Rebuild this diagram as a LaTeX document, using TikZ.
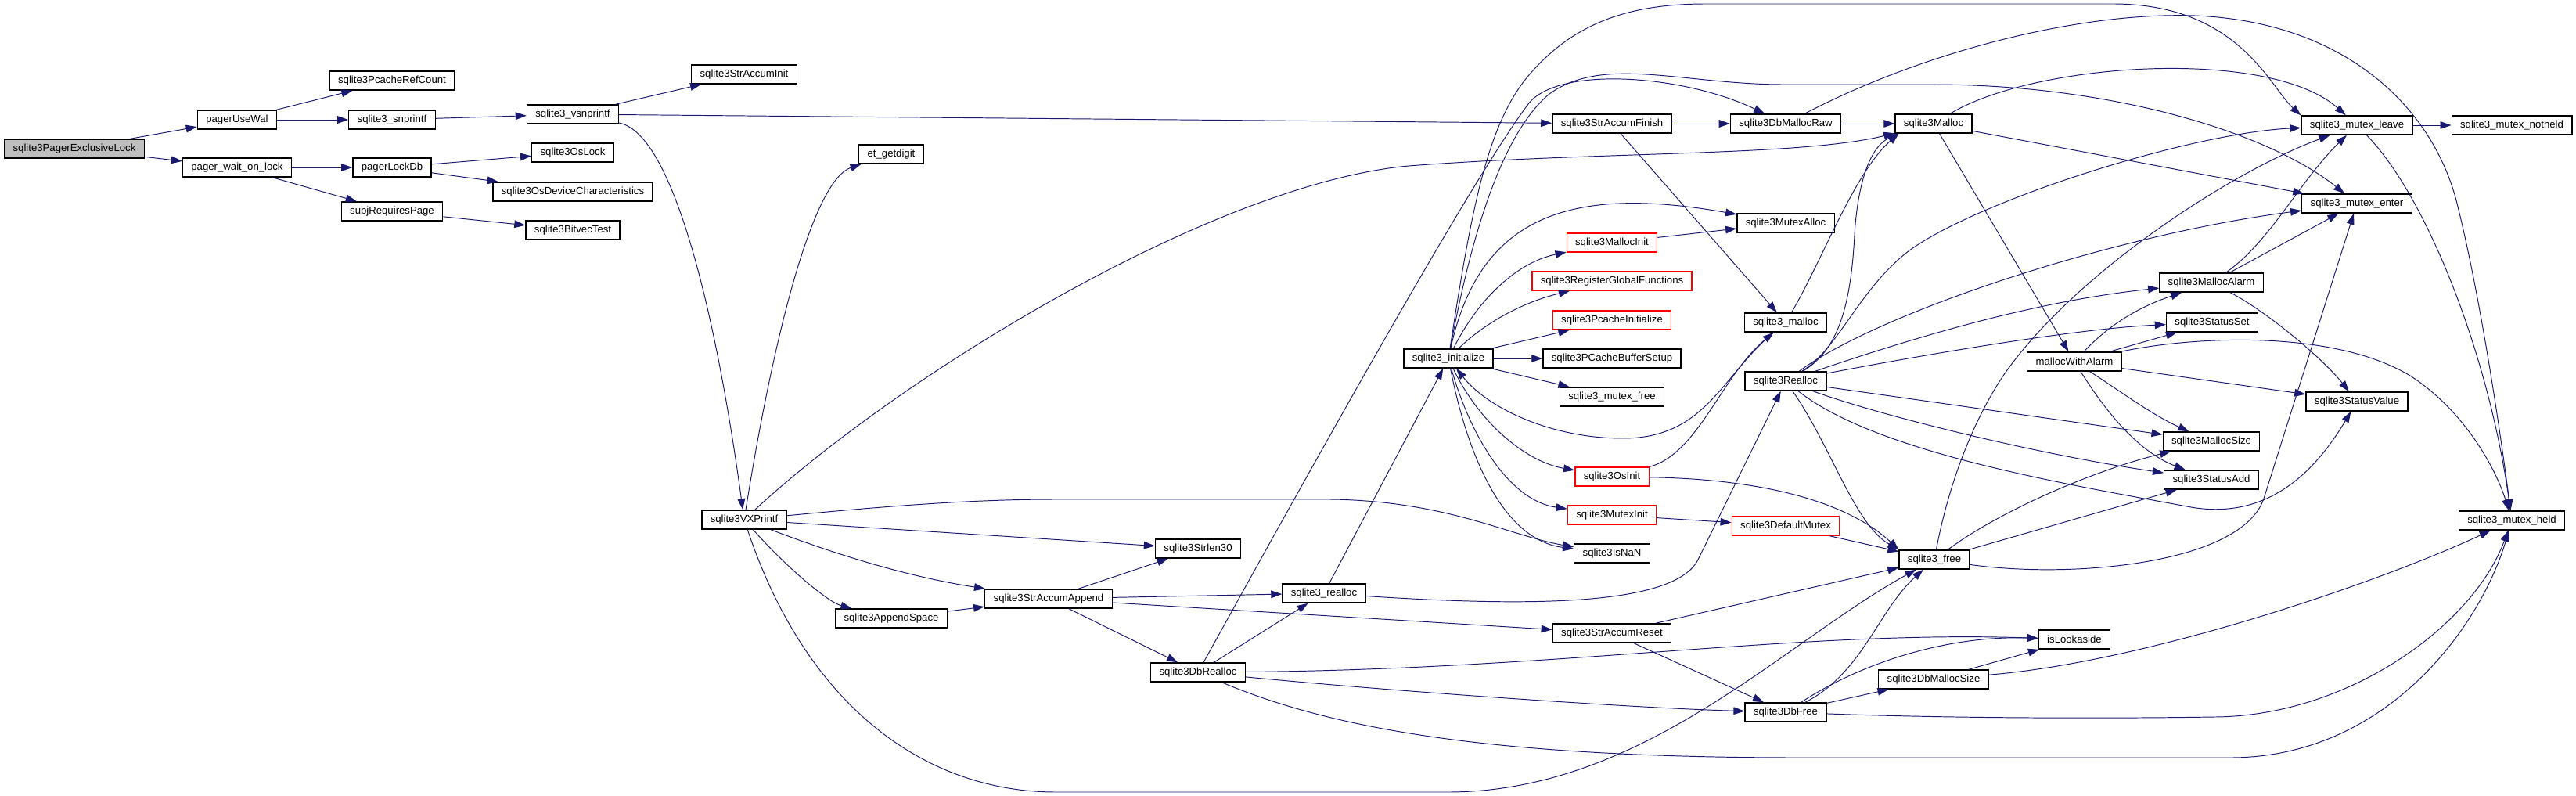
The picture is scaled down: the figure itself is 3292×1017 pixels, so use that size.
\documentclass[tikz,border=0pt]{standalone}
\usepackage{fontspec}
\setmainfont{Liberation Sans}
\usetikzlibrary{arrows.meta}
\definecolor{edgeblue}{HTML}{191970}

\begin{document}
\begin{tikzpicture}[x=0.02cm, y=-0.02cm, >={Triangle[length=8pt,width=5.5pt]},
    fn/.style={draw=black, line width=0.75pt, fill=white, inner xsep=6.2pt, inner ysep=0pt,
      minimum height=13.8pt, font=\fontsize{7.5}{9}\selectfont},
    fnroot/.style={fn, fill=black!25},
    fnred/.style={fn, draw=red},
    call/.style={->, draw=edgeblue, line width=0.55pt}]
    \useasboundingbox (0,0) rectangle (3292,1017);

    \node[fnroot] (excl) at (95,190) {sqlite3PagerExclusiveLock};
    \node[fn] (usewal) at (303,153) {pagerUseWal};
    \node[fn] (waitlock) at (303,214) {pager\_wait\_on\_lock};
    \node[fn] (refcount) at (501,103) {sqlite3PcacheRefCount};
    \node[fn] (snprintf) at (501,153) {sqlite3\_snprintf};
    \node[fn] (lockdb) at (501,214) {pagerLockDb};
    \node[fn] (subjreq) at (501,270) {subjRequiresPage};
    \node[fn] (vsnprintf) at (732,146) {sqlite3\_vsnprintf};
    \node[fn] (oslock) at (732,195) {sqlite3OsLock};
    \node[fn] (osdev) at (732,245) {sqlite3OsDeviceCharacteristics};
    \node[fn] (bitvec) at (732,294) {sqlite3BitvecTest};
    \node[fn] (accinit) at (951,95) {sqlite3StrAccumInit};
    \node[fn] (vxprintf) at (951,664) {sqlite3VXPrintf};
    \node[fn] (getdigit) at (1139,197) {et\_getdigit};
    \node[fn] (appendspace) at (1139,790) {sqlite3AppendSpace};
    \node[fn] (accappend) at (1340,765) {sqlite3StrAccumAppend};
    \node[fn] (strlen) at (1531,701) {sqlite3Strlen30};
    \node[fn] (dbrealloc) at (1531,859) {sqlite3DbRealloc};
    \node[fn] (srealloc) at (1692,758) {sqlite3\_realloc};
    \node[fn] (init) at (1851,458) {sqlite3\_initialize};
    \node[fn] (accfinish) at (2060,158) {sqlite3StrAccumFinish};
    \node[fnred] (mallocinit) at (2060,310) {sqlite3MallocInit};
    \node[fnred] (regglobal) at (2060,359) {sqlite3RegisterGlobalFunctions};
    \node[fnred] (pcacheinit) at (2060,409) {sqlite3PcacheInitialize};
    \node[fn] (bufsetup) at (2060,458) {sqlite3PCacheBufferSetup};
    \node[fn] (mutexfree) at (2060,507) {sqlite3\_mutex\_free};
    \node[fnred] (osinit) at (2060,609) {sqlite3OsInit};
    \node[fnred] (mutexinit) at (2060,658) {sqlite3MutexInit};
    \node[fn] (isnan) at (2060,707) {sqlite3IsNaN};
    \node[fn] (accreset) at (2060,809) {sqlite3StrAccumReset};
    \node[fn] (dbmallocraw) at (2282,158) {sqlite3DbMallocRaw};
    \node[fn] (mutexalloc) at (2282,285) {sqlite3MutexAlloc};
    \node[fn] (smalloc) at (2282,412) {sqlite3\_malloc};
    \node[fn] (realloc) at (2282,487) {sqlite3Realloc};
    \node[fnred] (defmutex) at (2282,672) {sqlite3DefaultMutex};
    \node[fn] (dbfree) at (2282,910) {sqlite3DbFree};
    \node[fn] (malloc) at (2471,158) {sqlite3Malloc};
    \node[fn] (sfree) at (2472,715) {sqlite3\_free};
    \node[fn] (dbmallocsize) at (2471,868) {sqlite3DbMallocSize};
    \node[fn] (withalarm) at (2651,462) {mallocWithAlarm};
    \node[fn] (lookaside) at (2651,817) {isLookaside};
    \node[fn] (mallocalarm) at (2826,361) {sqlite3MallocAlarm};
    \node[fn] (statusset) at (2827,412) {sqlite3StatusSet};
    \node[fn] (mallocsize) at (2826,564) {sqlite3MallocSize};
    \node[fn] (statusadd) at (2826,613) {sqlite3StatusAdd};
    \node[fn] (leave) at (3012,160) {sqlite3\_mutex\_leave};
    \node[fn] (enter) at (3012,260) {sqlite3\_mutex\_enter};
    \node[fn] (statusvalue) at (3012,513) {sqlite3StatusValue};
    \node[fn] (notheld) at (3210,160) {sqlite3\_mutex\_notheld};
    \node[fn] (held) at (3210,665) {sqlite3\_mutex\_held};

    \draw[call] (excl) -- (usewal);
    \draw[call] (excl) -- (waitlock);
    \draw[call] (usewal) -- (refcount);
    \draw[call] (usewal) -- (snprintf);
    \draw[call] (snprintf) -- (vsnprintf);
    \draw[call] (vsnprintf) -- (accinit);
    \draw[call] (vsnprintf) -- (accfinish);
    \draw[call] (vsnprintf) .. controls (860,170) and (915,400) .. (vxprintf);
    \draw[call] (waitlock) -- (lockdb);
    \draw[call] (waitlock) -- (subjreq);
    \draw[call] (lockdb) -- (oslock);
    \draw[call] (lockdb) -- (osdev);
    \draw[call] (subjreq) -- (bitvec);
    \draw[call] (vxprintf) .. controls (990,420) and (1040,230) .. (getdigit);
    \draw[call] (vxprintf) .. controls (1150,480) and (1550,235) .. (1800,212) .. controls (2050,193) and (2300,200) .. (malloc);
    \draw[call] (vxprintf) .. controls (1150,645) and (1250,638) .. (1350,638) -- (1700,638) .. controls (1850,640) and (1930,685) .. (isnan);
    \draw[call] (vxprintf) -- (strlen);
    \draw[call] (vxprintf) .. controls (1060,705) and (1150,735) .. (accappend);
    \draw[call] (vxprintf) .. controls (1010,730) and (1060,770) .. (appendspace);
    \draw[call] (vxprintf) .. controls (1030,900) and (1180,1012) .. (1350,1012) -- (1850,1012) .. controls (2100,1012) and (2280,820) .. (sfree);
    \draw[call] (appendspace) -- (accappend);
    \draw[call] (accappend) -- (strlen);
    \draw[call] (accappend) -- (srealloc);
    \draw[call] (accappend) -- (accreset);
    \draw[call] (accappend) -- (dbrealloc);
    \draw[call] (dbrealloc) -- (srealloc);
    \draw[call] (dbrealloc) .. controls (1680,590) and (1880,230) .. (1953,133) .. controls (1990,84) and (2150,95) .. (dbmallocraw);
    \draw[call] (dbrealloc) .. controls (2000,855) and (2300,805) .. (lookaside);
    \draw[call] (dbrealloc) .. controls (1800,885) and (2100,905) .. (dbfree);
    \draw[call] (dbrealloc) .. controls (1700,930) and (1900,968) .. (2300,968) -- (2850,968) .. controls (3050,968) and (3170,800) .. (held);
    \draw[call] (srealloc) -- (init);
    \draw[call] (srealloc) .. controls (1950,775) and (2140,775) .. (2170,715) -- (realloc);
    \draw[call] (smalloc) .. controls (2200,480) and (2180,560) .. (2074,560) .. controls (1980,560) and (1900,520) .. (init);
    \draw[call] (init) .. controls (1890,280) and (2000,235) .. (mutexalloc);
    \draw[call] (init) .. controls (1890,380) and (1940,335) .. (mallocinit);
    \draw[call] (init) .. controls (1900,410) and (1950,385) .. (regglobal);
    \draw[call] (init) -- (pcacheinit);
    \draw[call] (init) -- (bufsetup);
    \draw[call] (init) -- (mutexfree);
    \draw[call] (init) .. controls (1890,540) and (1950,590) .. (osinit);
    \draw[call] (init) .. controls (1880,560) and (1930,640) .. (mutexinit);
    \draw[call] (init) .. controls (1875,580) and (1920,690) .. (isnan);
    \draw[call] (init) .. controls (1880,300) and (1920,170) .. (1980,120) .. controls (2050,70) and (2150,108) .. (2280,108) -- (2470,108) .. controls (2700,108) and (2900,170) .. (enter);
    \draw[call] (init) .. controls (1880,270) and (1900,160) .. (1953,97) .. controls (2010,30) and (2080,5) .. (2180,5) -- (2700,5) .. controls (2860,5) and (2900,110) .. (leave.170);
    \draw[call] (accfinish) -- (dbmallocraw);
    \draw[call] (accfinish) -- (smalloc);
    \draw[call] (mallocinit) -- (mutexalloc);
    \draw[call] (mutexinit) -- (defmutex);
    \draw[call] (osinit) .. controls (2170,580) and (2200,480) .. (smalloc);
    \draw[call] (osinit) .. controls (2250,612) and (2360,640) .. (sfree.north west);
    \draw[call] (defmutex) -- (sfree);
    \draw[call] (smalloc) .. controls (2330,330) and (2370,220) .. (malloc.196);
    \draw[call] (realloc) .. controls (2345,450) and (2365,400) .. (2370,300) .. controls (2375,220) and (2395,185) .. (malloc.196);
    \draw[call] (realloc) .. controls (2340,570) and (2370,670) .. (sfree.north west);
    \draw[call] (realloc) .. controls (2350,445) and (2375,370) .. (2440,320) .. controls (2530,255) and (2800,170) .. (leave);
    \draw[call] (realloc) .. controls (2400,400) and (2700,300) .. (enter);
    \draw[call] (realloc) .. controls (2450,430) and (2600,385) .. (mallocalarm);
    \draw[call] (realloc) .. controls (2450,455) and (2650,420) .. (statusset);
    \draw[call] (realloc) -- (mallocsize);
    \draw[call] (realloc) .. controls (2400,530) and (2600,580) .. (statusadd);
    \draw[call] (realloc) .. controls (2400,580) and (2650,620) .. (2800,648) .. controls (2900,665) and (2960,600) .. (statusvalue);
    \draw[call] (dbmallocraw) -- (malloc);
    \draw[call] (dbmallocraw) .. controls (2450,70) and (2650,15) .. (2805,20) .. controls (3000,28) and (3110,140) .. (3140,260) .. controls (3170,380) and (3195,550) .. (held);
    \draw[call] (malloc) .. controls (2600,80) and (2900,60) .. (leave);
    \draw[call] (malloc) -- (enter);
    \draw[call] (malloc) -- (withalarm);
    \draw[call] (withalarm) .. controls (2700,410) and (2740,390) .. (mallocalarm);
    \draw[call] (withalarm) -- (statusset);
    \draw[call] (withalarm) .. controls (2800,430) and (2980,420) .. (3080,480) .. controls (3150,525) and (3190,600) .. (held);
    \draw[call] (withalarm) -- (statusvalue);
    \draw[call] (withalarm) .. controls (2700,540) and (2740,580) .. (statusadd);
    \draw[call] (withalarm) .. controls (2710,500) and (2750,530) .. (mallocsize);
    \draw[call] (mallocalarm) -- (enter);
    \draw[call] (mallocalarm) .. controls (2900,310) and (2940,230) .. (leave);
    \draw[call] (mallocalarm) .. controls (2900,400) and (2970,460) .. (statusvalue);
    \draw[call] (leave) -- (notheld);
    \draw[call] (leave) .. controls (3100,250) and (3180,450) .. (held);
    \draw[call] (sfree) .. controls (2490,620) and (2520,540) .. (2560,480) .. controls (2650,350) and (2850,220) .. (leave);
    \draw[call] (sfree) .. controls (2650,740) and (2865,720) .. (2893,637) -- (enter);
    \draw[call] (sfree) .. controls (2560,650) and (2680,600) .. (mallocsize);
    \draw[call] (sfree) -- (statusadd);
    \draw[call] (dbfree) .. controls (2380,860) and (2400,780) .. (sfree);
    \draw[call] (dbfree) .. controls (2390,840) and (2500,812) .. (lookaside);
    \draw[call] (dbfree) -- (dbmallocsize);
    \draw[call] (dbfree) .. controls (2500,918) and (2700,918) .. (2830,916) .. controls (3000,915) and (3160,800) .. (held);
    \draw[call] (dbmallocsize) -- (lookaside);
    \draw[call] (dbmallocsize) .. controls (2750,845) and (3050,740) .. (held);
    \draw[call] (accreset) -- (sfree);
    \draw[call] (accreset) -- (dbfree);
\end{tikzpicture}
\end{document}
